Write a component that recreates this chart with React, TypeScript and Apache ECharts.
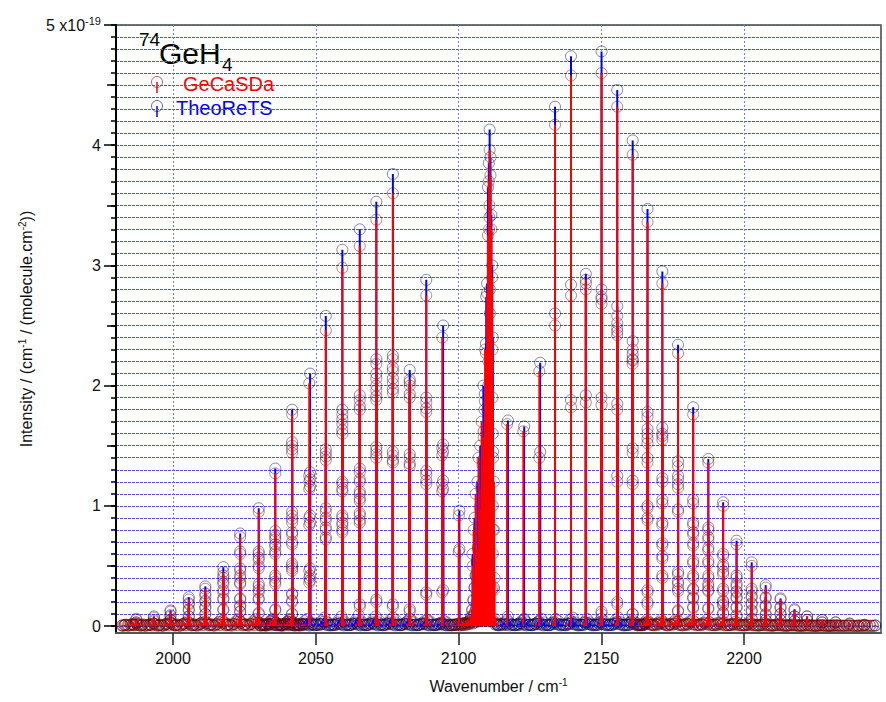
import React, { useEffect, useRef } from 'react';
import * as echarts from 'echarts';

// ---- axis ticks ----
const xTickValues = [2000, 2050, 2100, 2150, 2200];
const yTickValues = [0, 1, 2, 3, 4, 5];
const yHalfTickValues = [0.5, 1.5, 2.5, 3.5, 4.5];

// ---- data (intensity in units of 1e-19 cm-1/(molecule.cm-2)) ----
// clusters: [wavenumber, intensity of each component ...]
const gecasdaP = [
  [1987.1, 0.05, 0.03],
  [1993.3, 0.07, 0.04],
  [1999.1, 0.12, 0.08, 0.05],
  [2005.5, 0.22, 0.18, 0.13, 0.08],
  [2011.3, 0.31, 0.25, 0.2, 0.15, 0.1],
  [2017.6, 0.45, 0.4, 0.35, 0.28, 0.22, 0.13],
  [2023.5, 0.74, 0.6, 0.46, 0.4, 0.35, 0.22, 0.16, 0.12],
  [2030.0, 0.95, 0.6, 0.55, 0.48, 0.33, 0.28, 0.22, 0.1],
  [2035.8, 1.27, 0.76, 0.72, 0.66, 0.6, 0.4, 0.35, 0.13],
  [2041.7, 1.76, 1.5, 1.44, 0.92, 0.86, 0.76, 0.68, 0.5, 0.46, 0.26, 0.2, 0.1],
  [2047.7, 2.02, 1.25, 1.2, 1.14, 0.9, 0.84, 0.46, 0.4, 0.36],
  [2053.5, 2.46, 1.44, 1.38, 0.95, 0.88, 0.8, 0.72],
  [2059.3, 2.98, 1.76, 1.68, 1.6, 1.18, 1.12, 0.9, 0.84, 0.78],
  [2065.4, 3.16, 1.88, 1.8, 1.28, 1.2, 1.1, 1.04, 0.92, 0.86, 0.16],
  [2071.2, 3.38, 2.18, 2.06, 1.96, 1.88, 1.46, 1.4, 0.2],
  [2077.0, 3.6, 2.22, 2.12, 2.02, 1.94, 1.42, 1.36, 0.16],
  [2082.9, 2.05, 2.0, 1.9, 1.4, 1.33, 0.12],
  [2088.7, 2.75, 1.86, 1.78, 1.26, 1.18, 0.26],
  [2094.3, 2.4, 1.48, 1.42, 1.18, 1.12, 0.28],
  [2100.1, 0.92, 0.62],
];
const gecasdaQ = [
  [2104.0, 0.05], [2104.4, 0.08], [2104.8, 0.14], [2105.2, 0.22], [2105.6, 0.32], [2106.0, 0.42],
  [2106.4, 0.52], [2106.8, 0.64], [2107.2, 0.8], [2107.6, 0.97], [2108.0, 1.14],
  [2108.4, 1.34], [2108.8, 1.57], [2109.2, 1.87], [2109.6, 2.27], [2110.0, 2.77],
  [2110.3, 3.25], [2110.6, 3.7], [2110.9, 3.96], [2111.2, 3.75], [2111.5, 3.3],
  [2111.8, 2.9], [2112.1, 1.4], [2112.4, 0.3],
  [2111.9, 2.3], [2111.9, 1.9], [2112.0, 1.0], [2112.0, 0.6], [2111.7, 0.3],
  [2110.7, 3.3], [2110.8, 3.5], [2111.0, 2.6], [2110.5, 2.2], [2110.1, 1.8],
  [2109.9, 1.5], [2109.4, 1.3], [2109.0, 1.0], [2108.6, 0.9], [2108.2, 0.7],
  [2107.8, 0.55], [2107.3, 0.4], [2106.7, 0.25], [2106.1, 0.15], [2105.5, 0.1],
  [2105.0, 0.5], [2105.3, 0.8], [2106.0, 1.1], [2107.0, 1.4], [2108.1, 1.7], [2109.3, 2.3],
  [2112.4, 1.2], [2112.5, 0.8], [2112.6, 0.4],
];
const gecasdaR = [
  [2117.0, 1.68],
  [2122.7, 1.62],
  [2128.3, 2.12, 1.4],
  [2133.8, 4.17, 2.5],
  [2139.4, 4.58, 2.75, 1.82],
  [2144.6, 2.88, 2.8, 1.86],
  [2150.1, 4.6, 2.74, 2.68, 1.84, 0.1],
  [2155.6, 4.32, 2.58, 2.48, 2.42, 1.8, 1.2, 0.18],
  [2161.0, 3.92, 2.3, 2.22, 2.18, 1.44, 1.18, 0.1],
  [2166.2, 3.36, 1.74, 1.6, 1.52, 1.36, 0.98, 0.88, 0.28, 0.18],
  [2171.4, 2.85, 1.6, 1.55, 1.2, 1.02, 0.84, 0.67, 0.56, 0.4],
  [2176.9, 2.27, 1.33, 1.22, 1.15, 0.95, 0.43, 0.35, 0.29, 0.12],
  [2182.2, 1.76, 1.02, 0.84, 0.76, 0.67, 0.52, 0.4, 0.3, 0.23, 0.15],
  [2187.5, 1.36, 0.8, 0.72, 0.63, 0.52, 0.4, 0.33, 0.29, 0.14],
  [2192.7, 1.0, 0.58, 0.49, 0.43, 0.29, 0.2, 0.17, 0.1],
  [2197.4, 0.68, 0.4, 0.33, 0.28, 0.23, 0.15, 0.08],
  [2202.7, 0.5, 0.29, 0.24, 0.18, 0.12, 0.06],
  [2207.6, 0.32, 0.23, 0.16, 0.09, 0.05],
  [2212.8, 0.22, 0.15, 0.1, 0.05],
  [2217.7, 0.13, 0.08, 0.04],
  [2222.1, 0.08, 0.05],
  [2227.4, 0.05, 0.03],
  [2232.1, 0.03],
  [2237.0, 0.02],
  [2242.2, 0.01],
];
const gecasdaWeak = [
  [1982.0, 0.004], [1983.0, 0.008], [1984.0, 0.006], [1985.0, 0.01], [1986.0, 0.015],
  [1987.0, 0.02], [1988.0, 0.012], [1989.0, 0.006], [1990.0, 0.004], [1991.0, 0.008],
  [1992.0, 0.014], [1993.0, 0.022], [1994.0, 0.014], [1995.0, 0.006], [1996.0, 0.005],
  [1997.0, 0.01], [1998.0, 0.02], [1999.0, 0.03], [2000.0, 0.015], [2001.0, 0.006],
  [2002.0, 0.005], [2003.0, 0.01], [2004.0, 0.025], [2005.0, 0.04], [2006.0, 0.02],
  [2007.0, 0.008], [2008.0, 0.006], [2009.0, 0.012], [2010.0, 0.03], [2011.0, 0.05],
  [2012.0, 0.025], [2013.0, 0.01], [2014.0, 0.006], [2015.0, 0.012], [2016.0, 0.035],
  [2017.0, 0.06], [2018.0, 0.03], [2019.0, 0.01], [2020.0, 0.008], [2021.0, 0.015],
  [2022.0, 0.04], [2023.0, 0.06], [2024.0, 0.03], [2025.0, 0.012], [2026.0, 0.008],
  [2027.0, 0.015], [2028.0, 0.04], [2029.0, 0.06], [2030.0, 0.03], [2031.0, 0.012],
  [2032.0, 0.008], [2033.0, 0.015], [2034.0, 0.04], [2035.0, 0.06], [2036.0, 0.03],
  [2037.0, 0.012], [2038.0, 0.008], [2039.0, 0.015], [2040.0, 0.035], [2041.0, 0.05],
  [2042.0, 0.03], [2043.0, 0.01], [2044.0, 0.008], [2045.0, 0.012], [2046.0, 0.02],
  [1982.5, 0.002], [1984.5, 0.003], [1986.5, 0.004], [1988.5, 0.003], [1990.5, 0.002],
  [1992.5, 0.004], [1994.5, 0.003], [1996.5, 0.002], [1998.5, 0.005], [2000.5, 0.004],
  [2002.5, 0.002], [2004.5, 0.006], [2006.5, 0.004], [2008.5, 0.003], [2010.5, 0.006],
  [2012.5, 0.005], [2014.5, 0.003], [2016.5, 0.007], [2018.5, 0.005], [2020.5, 0.003],
  [2022.5, 0.007], [2024.5, 0.005], [2026.5, 0.003], [2028.5, 0.006], [2030.5, 0.005],
  [2032.5, 0.003], [2034.5, 0.006], [2036.5, 0.005], [2038.5, 0.003], [2040.5, 0.006],
  [2042.5, 0.004], [2044.5, 0.003],
  [1983.5, 0.012], [1985.5, 0.016], [1987.5, 0.01], [1989.5, 0.014], [1991.5, 0.01],
  [1993.5, 0.018], [1995.5, 0.012], [1997.5, 0.016], [1999.5, 0.02], [2001.5, 0.012],
  [2003.5, 0.016], [2005.5, 0.02], [2007.5, 0.014], [2009.5, 0.016], [2011.5, 0.022],
  [2013.5, 0.014], [2015.5, 0.016], [2017.5, 0.024], [2019.5, 0.014], [2021.5, 0.016],
  [2023.5, 0.024], [2025.5, 0.014], [2027.5, 0.016], [2029.5, 0.024], [2031.5, 0.014],
  [2033.5, 0.016], [2035.5, 0.024], [2037.5, 0.014], [2039.5, 0.016], [2041.5, 0.022],
  [2043.5, 0.014], [2045.5, 0.012],
  [1982.25, 0.006], [1983.25, 0.01], [1984.25, 0.004], [1985.25, 0.012], [1986.25, 0.008],
  [1987.25, 0.018], [1988.25, 0.006], [1989.25, 0.01], [1990.25, 0.005], [1991.25, 0.012],
  [1992.25, 0.008], [1993.25, 0.02], [1994.25, 0.006], [1995.25, 0.01], [1996.25, 0.004],
  [1997.25, 0.014], [1998.25, 0.01], [1999.25, 0.025], [2000.25, 0.008], [2001.25, 0.012],
  [2002.25, 0.005], [2003.25, 0.014], [2004.25, 0.01], [2005.25, 0.03], [2006.25, 0.008],
  [2007.25, 0.012], [2008.25, 0.006], [2009.25, 0.016], [2010.25, 0.012], [2011.25, 0.035],
  [2012.25, 0.01], [2013.25, 0.014], [2014.25, 0.006], [2015.25, 0.016], [2016.25, 0.012],
  [2017.25, 0.04], [2018.25, 0.01], [2019.25, 0.014], [2020.25, 0.006], [2021.25, 0.018],
  [2022.25, 0.012], [2023.25, 0.04], [2024.25, 0.01], [2025.25, 0.014], [2026.25, 0.006],
  [2027.25, 0.018], [2028.25, 0.012], [2029.25, 0.04], [2030.25, 0.01], [2031.25, 0.014],
  [2032.25, 0.006], [2033.25, 0.018], [2034.25, 0.012], [2035.25, 0.04], [2036.25, 0.01],
  [2037.25, 0.014], [2038.25, 0.006], [2039.25, 0.016], [2040.25, 0.012], [2041.25, 0.035],
  [2042.25, 0.01], [2043.25, 0.012], [2044.25, 0.006], [2045.25, 0.014],
  [2048, 0.02], [2050, 0.01], [2052, 0.015], [2054, 0.03], [2056, 0.01], [2058, 0.02],
  [2060, 0.04], [2062, 0.01], [2064, 0.02], [2066, 0.04], [2068, 0.01], [2070, 0.02],
  [2072, 0.05], [2074, 0.01], [2076, 0.02], [2078, 0.05], [2080, 0.01], [2082, 0.02],
  [2084, 0.04], [2086, 0.01], [2088, 0.02], [2090, 0.04], [2092, 0.01], [2094, 0.02],
  [2096, 0.03], [2098, 0.01],
  [2097.0, 0.006], [2097.5, 0.008], [2098.5, 0.01],
  [2099.0, 0.01], [2099.5, 0.012], [2100.0, 0.015], [2100.5, 0.018], [2101.0, 0.02],
  [2101.5, 0.022], [2102.0, 0.025], [2102.5, 0.028], [2103.0, 0.03], [2103.5, 0.035],
  [2100.2, 0.005], [2100.8, 0.006], [2101.3, 0.008], [2101.8, 0.01], [2102.3, 0.01],
  [2102.8, 0.012], [2103.3, 0.014], [2103.8, 0.02], [2104.2, 0.02], [2104.6, 0.03],
  [2105.0, 0.02], [2105.5, 0.03], [2106.0, 0.03], [2106.5, 0.04], [2107.0, 0.04],
  [2107.5, 0.04], [2108.0, 0.05], [2108.5, 0.04], [2109.0, 0.05], [2109.5, 0.04],
  [2110.0, 0.05], [2110.5, 0.04], [2111.0, 0.05], [2111.5, 0.04], [2112.0, 0.05],
  [2104.0, 0.045], [2112.7, 0.06], [2113.0, 0.03], [2113.5, 0.015],
  [2116, 0.01], [2121, 0.01], [2127, 0.02], [2133, 0.03], [2138, 0.02], [2144, 0.03],
  [2149, 0.02], [2155, 0.03], [2160, 0.03],
  [2163, 0.01], [2164, 0.015], [2165, 0.03], [2166, 0.05], [2167, 0.03], [2168, 0.01],
  [2169, 0.015], [2170, 0.03], [2171, 0.05], [2172, 0.03], [2173, 0.01], [2174, 0.015],
  [2175, 0.03], [2176, 0.05], [2177, 0.04], [2178, 0.015], [2179, 0.01], [2180, 0.02],
  [2181, 0.04], [2182, 0.05], [2183, 0.03], [2184, 0.01], [2185, 0.015], [2186, 0.03],
  [2187, 0.05], [2188, 0.03], [2189, 0.01], [2190, 0.012], [2191, 0.025], [2192, 0.04],
  [2193, 0.03], [2194, 0.01], [2195, 0.01], [2196, 0.02], [2197, 0.035], [2198, 0.025],
  [2199, 0.01], [2200, 0.008], [2201, 0.015], [2202, 0.03], [2203, 0.02], [2204, 0.008],
  [2205, 0.006], [2206, 0.012], [2207, 0.025], [2208, 0.015], [2209, 0.006], [2210, 0.005],
  [2211, 0.01], [2212, 0.02], [2213, 0.012], [2214, 0.005], [2215, 0.004], [2216, 0.008],
  [2217, 0.015], [2218, 0.01], [2219, 0.004], [2220, 0.004], [2221, 0.006], [2222, 0.012],
  [2223, 0.008], [2224, 0.004], [2225, 0.003], [2226, 0.005], [2227, 0.01], [2228, 0.006],
  [2229, 0.003], [2230, 0.003], [2231, 0.004], [2232, 0.008], [2233, 0.005], [2234, 0.003],
  [2236, 0.004], [2237, 0.006], [2238, 0.003], [2240, 0.003], [2241, 0.004], [2242, 0.005],
  [2244, 0.003],
  [2162.5, 0.006], [2163.5, 0.008], [2164.5, 0.012], [2165.5, 0.02], [2166.5, 0.018],
  [2167.5, 0.01], [2168.5, 0.006], [2169.5, 0.01], [2170.5, 0.02], [2171.5, 0.018],
  [2172.5, 0.01], [2173.5, 0.006], [2174.5, 0.01], [2175.5, 0.02], [2176.5, 0.018],
  [2177.5, 0.01], [2178.5, 0.006], [2179.5, 0.01], [2180.5, 0.014], [2181.5, 0.02],
  [2182.5, 0.016], [2183.5, 0.01], [2184.5, 0.006], [2185.5, 0.01], [2186.5, 0.016],
  [2187.5, 0.02], [2188.5, 0.012], [2189.5, 0.006], [2190.5, 0.008], [2191.5, 0.014],
  [2192.5, 0.018], [2193.5, 0.01], [2194.5, 0.006], [2195.5, 0.008], [2196.5, 0.012],
  [2197.5, 0.016], [2198.5, 0.01], [2199.5, 0.005], [2200.5, 0.006], [2201.5, 0.01],
  [2202.5, 0.014], [2203.5, 0.008], [2204.5, 0.004], [2205.5, 0.005], [2206.5, 0.008],
  [2207.5, 0.012], [2208.5, 0.007], [2209.5, 0.004], [2210.5, 0.004], [2211.5, 0.006],
  [2212.5, 0.01], [2213.5, 0.006], [2214.5, 0.003], [2215.5, 0.003], [2216.5, 0.005],
  [2217.5, 0.008], [2218.5, 0.005], [2219.5, 0.003], [2220.5, 0.003], [2221.5, 0.004],
  [2222.5, 0.006], [2223.5, 0.004], [2224.5, 0.002], [2225.5, 0.002], [2226.5, 0.003],
  [2227.5, 0.005], [2228.5, 0.003], [2229.5, 0.002], [2230.5, 0.002], [2231.5, 0.003],
  [2232.5, 0.004], [2233.5, 0.003], [2235.0, 0.002], [2236.5, 0.003], [2238.5, 0.002],
  [2239.5, 0.002], [2241.5, 0.003], [2243.0, 0.002], [2245.0, 0.002],
  [2163.25, 0.01], [2164.25, 0.006], [2165.25, 0.016], [2166.25, 0.035], [2167.25, 0.012],
  [2168.25, 0.008], [2169.25, 0.014], [2170.25, 0.012], [2171.25, 0.035], [2172.25, 0.01],
  [2173.25, 0.006], [2174.25, 0.014], [2175.25, 0.012], [2176.25, 0.035], [2177.25, 0.01],
  [2178.25, 0.006], [2179.25, 0.014], [2180.25, 0.01], [2181.25, 0.03], [2182.25, 0.012],
  [2183.25, 0.006], [2184.25, 0.012], [2185.25, 0.01], [2186.25, 0.025], [2187.25, 0.012],
  [2188.25, 0.006], [2189.25, 0.01], [2190.25, 0.008], [2191.25, 0.02], [2192.25, 0.01],
  [2193.25, 0.005], [2194.25, 0.008], [2195.25, 0.006], [2196.25, 0.016], [2197.25, 0.01],
  [2198.25, 0.005], [2199.25, 0.007], [2200.25, 0.005], [2201.25, 0.012], [2202.25, 0.008],
  [2203.25, 0.004], [2204.25, 0.006], [2205.25, 0.004], [2206.25, 0.01], [2207.25, 0.006],
  [2208.25, 0.003], [2209.25, 0.005], [2210.25, 0.003], [2211.25, 0.008], [2212.25, 0.005],
  [2213.25, 0.003], [2214.25, 0.004], [2215.25, 0.003], [2216.25, 0.006], [2217.25, 0.004],
  [2218.25, 0.002], [2219.25, 0.003], [2220.25, 0.002], [2221.25, 0.005], [2222.25, 0.003],
  [2223.25, 0.002], [2224.25, 0.003], [2225.25, 0.002], [2226.25, 0.004], [2227.25, 0.003],
  [2228.25, 0.002], [2229.25, 0.002], [2230.25, 0.002], [2231.25, 0.003], [2232.25, 0.002],
  [2233.25, 0.002], [2234.25, 0.002], [2235.25, 0.002], [2236.25, 0.003], [2237.25, 0.002],
  [2238.25, 0.002], [2239.25, 0.002], [2240.25, 0.002], [2241.25, 0.002], [2242.25, 0.003],
  [2243.25, 0.002], [2244.25, 0.002], [2245.25, 0.002],
];

const theoretsP = [
  [1987.1, 0.06, 0.03],
  [1993.3, 0.08, 0.05],
  [1999.1, 0.13, 0.09, 0.05],
  [2005.5, 0.24, 0.19, 0.14, 0.08],
  [2011.3, 0.33, 0.27, 0.21, 0.16, 0.1],
  [2017.6, 0.49, 0.42, 0.37, 0.3, 0.23, 0.14],
  [2023.5, 0.77, 0.62, 0.48, 0.42, 0.36, 0.23, 0.17, 0.12],
  [2030.0, 0.98, 0.62, 0.57, 0.5, 0.35, 0.3, 0.23, 0.11],
  [2035.8, 1.31, 0.79, 0.74, 0.68, 0.62, 0.42, 0.37, 0.14],
  [2041.7, 1.8, 1.53, 1.47, 0.95, 0.89, 0.78, 0.7, 0.52, 0.48, 0.27, 0.21, 0.1],
  [2048.0, 2.1, 1.28, 1.22, 1.16, 0.92, 0.86, 0.48, 0.42, 0.38],
  [2053.5, 2.58, 1.47, 1.41, 0.98, 0.9, 0.82, 0.74],
  [2059.3, 3.13, 1.8, 1.72, 1.63, 1.2, 1.14, 0.92, 0.86, 0.8],
  [2065.4, 3.3, 1.92, 1.83, 1.31, 1.22, 1.12, 1.06, 0.94, 0.88, 0.18],
  [2071.2, 3.53, 2.22, 2.1, 2.0, 1.91, 1.49, 1.43, 0.22],
  [2077.0, 3.76, 2.25, 2.15, 2.06, 1.97, 1.45, 1.38, 0.18],
  [2082.9, 2.13, 2.03, 1.93, 1.43, 1.35, 0.14],
  [2088.7, 2.88, 1.9, 1.81, 1.29, 1.21, 0.28],
  [2094.6, 2.5, 1.51, 1.45, 1.21, 1.14, 0.3],
  [2100.3, 0.96, 0.64],
];
const theoretsQ = [
  [2104.4, 0.07], [2104.8, 0.13], [2105.2, 0.21], [2105.6, 0.32], [2106.0, 0.42],
  [2106.4, 0.53], [2106.8, 0.66], [2107.2, 0.82], [2107.6, 1.0], [2108.0, 1.18],
  [2108.4, 1.38], [2108.8, 1.62], [2109.1, 1.8], [2109.2, 1.93], [2109.6, 2.35],
  [2109.7, 2.74], [2110.0, 2.85], [2110.3, 3.65], [2110.6, 3.85], [2110.9, 4.13],
  [2111.2, 3.9], [2111.5, 3.42], [2111.8, 3.0], [2112.1, 1.45], [2112.4, 0.32],
  [2112.0, 2.4], [2112.0, 1.6], [2112.1, 0.8], [2110.8, 3.4], [2111.0, 2.8],
  [2110.4, 2.0], [2109.8, 1.6], [2109.3, 1.15], [2108.9, 0.95], [2108.3, 0.75],
  [2107.7, 0.5], [2107.0, 0.35], [2106.4, 0.2], [2105.8, 0.12], [2105.1, 0.08],
  [2104.9, 0.6], [2105.6, 0.9], [2106.6, 1.2], [2107.6, 1.5], [2108.7, 2.0],
];
const theoretsR = [
  [2117.3, 1.71, 0.08],
  [2123.0, 1.66, 0.06],
  [2128.6, 2.19, 1.45],
  [2133.8, 4.32, 2.6],
  [2139.4, 4.74, 2.84, 1.88],
  [2144.6, 2.93, 2.85, 1.92],
  [2150.1, 4.78, 2.8, 2.72, 1.9, 0.12],
  [2155.6, 4.46, 2.66, 2.52, 2.45, 1.85, 1.25, 0.2],
  [2161.0, 4.04, 2.37, 2.26, 2.21, 1.48, 1.21, 0.1],
  [2166.2, 3.47, 1.78, 1.64, 1.56, 1.4, 1.0, 0.9, 0.3, 0.2],
  [2171.4, 2.95, 1.65, 1.58, 1.23, 1.05, 0.86, 0.69, 0.58, 0.42],
  [2176.9, 2.34, 1.37, 1.25, 1.18, 0.97, 0.45, 0.37, 0.31, 0.13],
  [2182.2, 1.82, 1.05, 0.86, 0.78, 0.69, 0.54, 0.42, 0.31, 0.24, 0.16],
  [2187.5, 1.39, 0.82, 0.74, 0.65, 0.54, 0.42, 0.35, 0.3, 0.15],
  [2192.7, 1.03, 0.6, 0.51, 0.45, 0.31, 0.21, 0.18, 0.11],
  [2197.4, 0.71, 0.42, 0.35, 0.29, 0.24, 0.16, 0.09],
  [2202.7, 0.53, 0.31, 0.25, 0.19, 0.13, 0.06],
  [2207.6, 0.34, 0.24, 0.17, 0.1, 0.05],
  [2212.8, 0.23, 0.16, 0.1, 0.05],
  [2217.7, 0.14, 0.08, 0.04],
  [2222.1, 0.08, 0.05],
  [2227.4, 0.05, 0.03],
  [2232.1, 0.03],
  [2237.0, 0.02],
  [2242.2, 0.01],
  [2246.0, 0.005],
];
const theoretsWeak = [
  [1983, 0.006], [1986, 0.01], [1989, 0.006], [1992, 0.012], [1995, 0.006], [1998, 0.02],
  [2001, 0.006], [2004, 0.02], [2007, 0.008], [2010, 0.025], [2013, 0.01], [2016, 0.03],
  [2019, 0.01], [2022, 0.03], [2025, 0.012], [2028, 0.03],
  [2031, 0.015], [2032, 0.01], [2033, 0.02], [2034, 0.04], [2035, 0.05], [2036, 0.03],
  [2037, 0.015], [2038, 0.01], [2039, 0.02], [2040, 0.04], [2041, 0.06], [2042, 0.03],
  [2043, 0.015], [2044, 0.01], [2045, 0.02], [2046, 0.04], [2047, 0.06], [2048, 0.03],
  [2049, 0.015], [2050, 0.01], [2051, 0.02], [2052, 0.04], [2053, 0.07], [2054, 0.03],
  [2055, 0.012], [2056, 0.01], [2057, 0.02], [2058, 0.05], [2059, 0.08], [2060, 0.03],
  [2061, 0.012], [2062, 0.01], [2063, 0.02], [2064, 0.05], [2065, 0.09], [2066, 0.03],
  [2067, 0.012], [2068, 0.01], [2069, 0.02], [2070, 0.05], [2071, 0.08], [2072, 0.03],
  [2073, 0.012], [2074, 0.01], [2075, 0.02], [2076, 0.05], [2077, 0.07], [2078, 0.03],
  [2079, 0.012], [2080, 0.01], [2081, 0.02], [2082, 0.04], [2083, 0.06], [2084, 0.03],
  [2085, 0.012], [2086, 0.01], [2087, 0.02], [2088, 0.04], [2089, 0.05], [2090, 0.03],
  [2091, 0.012], [2092, 0.01], [2093, 0.02], [2094, 0.03], [2095, 0.04], [2096, 0.02],
  [2097, 0.01], [2098, 0.012], [2099, 0.015], [2100, 0.02], [2101, 0.015], [2102, 0.02],
  [2103, 0.02], [2104, 0.03],
  [2113, 0.02], [2114, 0.01], [2115, 0.015], [2116, 0.03], [2117, 0.05], [2118, 0.03],
  [2119, 0.012], [2120, 0.01], [2121, 0.02], [2122, 0.04], [2123, 0.05], [2124, 0.03],
  [2125, 0.012], [2126, 0.01], [2127, 0.02], [2128, 0.04], [2129, 0.06], [2130, 0.03],
  [2131, 0.012], [2132, 0.01], [2133, 0.03], [2134, 0.06], [2135, 0.04], [2136, 0.015],
  [2137, 0.01], [2138, 0.02], [2139, 0.05], [2140, 0.07], [2141, 0.03], [2142, 0.012],
  [2143, 0.01], [2144, 0.03], [2145, 0.06], [2146, 0.03], [2147, 0.012], [2148, 0.01],
  [2149, 0.03], [2150, 0.06], [2151, 0.04], [2152, 0.015], [2153, 0.01], [2154, 0.02],
  [2155, 0.05], [2156, 0.07], [2157, 0.03], [2158, 0.012], [2159, 0.01], [2160, 0.03],
  [2161, 0.05], [2162, 0.03], [2163, 0.012], [2164, 0.01], [2165, 0.02], [2166, 0.03],
  [2168, 0.015], [2170, 0.02], [2172, 0.02], [2174, 0.015], [2176, 0.02],
  [2180, 0.02], [2185, 0.02], [2190, 0.02], [2195, 0.015], [2200, 0.01], [2205, 0.01],
  [2210, 0.008], [2215, 0.006], [2220, 0.005], [2225, 0.004], [2230, 0.003], [2235, 0.003],
  [2240, 0.003], [2246, 0.004],
  [2030.5, 0.008], [2031.5, 0.006], [2032.5, 0.01], [2033.5, 0.012], [2034.5, 0.016],
  [2035.5, 0.012], [2036.5, 0.008], [2037.5, 0.006], [2038.5, 0.01], [2039.5, 0.014],
  [2040.5, 0.018], [2041.5, 0.012], [2042.5, 0.008], [2043.5, 0.006], [2044.5, 0.01],
  [2045.5, 0.014], [2046.5, 0.018], [2047.5, 0.012], [2048.5, 0.008], [2049.5, 0.006],
  [2050.5, 0.01], [2051.5, 0.014], [2052.5, 0.02], [2053.5, 0.014], [2054.5, 0.008],
  [2055.5, 0.006], [2056.5, 0.01], [2057.5, 0.014], [2058.5, 0.02], [2059.5, 0.014],
  [2060.5, 0.008], [2061.5, 0.006], [2062.5, 0.01], [2063.5, 0.014], [2064.5, 0.02],
  [2065.5, 0.014], [2066.5, 0.008], [2067.5, 0.006], [2068.5, 0.01], [2069.5, 0.014],
  [2070.5, 0.02], [2071.5, 0.014], [2072.5, 0.008], [2073.5, 0.006], [2074.5, 0.01],
  [2075.5, 0.014], [2076.5, 0.02], [2077.5, 0.014], [2078.5, 0.008], [2079.5, 0.006],
  [2080.5, 0.01], [2081.5, 0.014], [2082.5, 0.018], [2083.5, 0.012], [2084.5, 0.008],
  [2085.5, 0.006], [2086.5, 0.01], [2087.5, 0.014], [2088.5, 0.018], [2089.5, 0.012],
  [2090.5, 0.008], [2091.5, 0.006], [2092.5, 0.01], [2093.5, 0.012], [2094.5, 0.016],
  [2095.5, 0.01], [2096.5, 0.006], [2097.5, 0.006], [2098.5, 0.008],
  [2113.5, 0.01], [2114.5, 0.006], [2115.5, 0.01], [2116.5, 0.016], [2117.5, 0.02],
  [2118.5, 0.012], [2119.5, 0.006], [2120.5, 0.008], [2121.5, 0.012], [2122.5, 0.018],
  [2123.5, 0.014], [2124.5, 0.008], [2125.5, 0.006], [2126.5, 0.01], [2127.5, 0.014],
  [2128.5, 0.02], [2129.5, 0.014], [2130.5, 0.008], [2131.5, 0.006], [2132.5, 0.01],
  [2133.5, 0.016], [2134.5, 0.02], [2135.5, 0.012], [2136.5, 0.008], [2137.5, 0.006],
  [2138.5, 0.012], [2139.5, 0.02], [2140.5, 0.016], [2141.5, 0.01], [2142.5, 0.006],
  [2143.5, 0.01], [2144.5, 0.016], [2145.5, 0.02], [2146.5, 0.012], [2147.5, 0.006],
  [2148.5, 0.01], [2149.5, 0.016], [2150.5, 0.02], [2151.5, 0.012], [2152.5, 0.006],
  [2153.5, 0.008], [2154.5, 0.014], [2155.5, 0.02], [2156.5, 0.016], [2157.5, 0.01],
  [2158.5, 0.006], [2159.5, 0.01], [2160.5, 0.016], [2161.5, 0.02], [2162.5, 0.012],
  [2163.5, 0.006], [2164.5, 0.008], [2165.5, 0.012],
  [2030.75, 0.004], [2031.75, 0.012], [2032.75, 0.006], [2033.75, 0.018], [2034.75, 0.03],
  [2035.75, 0.008], [2036.75, 0.012], [2037.75, 0.004], [2038.75, 0.014], [2039.75, 0.025],
  [2040.75, 0.01], [2041.75, 0.012], [2042.75, 0.005], [2043.75, 0.014], [2044.75, 0.02],
  [2045.75, 0.008], [2046.75, 0.012], [2047.75, 0.004], [2048.75, 0.014], [2049.75, 0.02],
  [2050.75, 0.008], [2051.75, 0.012], [2052.75, 0.035], [2053.75, 0.01], [2054.75, 0.005],
  [2055.75, 0.014], [2056.75, 0.008], [2057.75, 0.03], [2058.75, 0.012], [2059.75, 0.005],
  [2060.75, 0.014], [2061.75, 0.008], [2062.75, 0.02], [2063.75, 0.03], [2064.75, 0.01],
  [2065.75, 0.005], [2066.75, 0.014], [2067.75, 0.008], [2068.75, 0.02], [2069.75, 0.03],
  [2070.75, 0.012], [2071.75, 0.005], [2072.75, 0.014], [2073.75, 0.008], [2074.75, 0.02],
  [2075.75, 0.03], [2076.75, 0.012], [2077.75, 0.005], [2078.75, 0.014], [2079.75, 0.008],
  [2080.75, 0.02], [2081.75, 0.03], [2082.75, 0.01], [2083.75, 0.005], [2084.75, 0.012],
  [2085.75, 0.008], [2086.75, 0.018], [2087.75, 0.025], [2088.75, 0.01], [2089.75, 0.005],
  [2090.75, 0.012], [2091.75, 0.008], [2092.75, 0.016], [2093.75, 0.02], [2094.75, 0.01],
  [2095.75, 0.005], [2096.75, 0.008], [2097.75, 0.006], [2098.75, 0.01],
  [2112.75, 0.012], [2113.75, 0.006], [2114.75, 0.014], [2115.75, 0.02], [2116.75, 0.01],
  [2117.75, 0.005], [2118.75, 0.012], [2119.75, 0.008], [2120.75, 0.016], [2121.75, 0.025],
  [2122.75, 0.01], [2123.75, 0.005], [2124.75, 0.012], [2125.75, 0.008], [2126.75, 0.018],
  [2127.75, 0.03], [2128.75, 0.012], [2129.75, 0.005], [2130.75, 0.012], [2131.75, 0.008],
  [2132.75, 0.02], [2133.75, 0.03], [2134.75, 0.012], [2135.75, 0.005], [2136.75, 0.012],
  [2137.75, 0.008], [2138.75, 0.02], [2139.75, 0.035], [2140.75, 0.012], [2141.75, 0.005],
  [2142.75, 0.012], [2143.75, 0.008], [2144.75, 0.03], [2145.75, 0.014], [2146.75, 0.006],
  [2147.75, 0.012], [2148.75, 0.008], [2149.75, 0.03], [2150.75, 0.014], [2151.75, 0.006],
  [2152.75, 0.012], [2153.75, 0.008], [2154.75, 0.02], [2155.75, 0.035], [2156.75, 0.012],
  [2157.75, 0.005], [2158.75, 0.012], [2159.75, 0.008], [2160.75, 0.03], [2161.75, 0.012],
  [2162.75, 0.006], [2163.75, 0.01], [2164.75, 0.008],
];

function expand(clusters: number[][]): number[][] {
  const out: number[][] = [];
  for (const c of clusters) for (let i = 1; i < c.length; i++) out.push([c[0], c[i]]);
  return out;
}

const FONT = '"Liberation Sans", Arial, Helvetica, sans-serif';
const GE_STICK = '#ff0000';
const TH_STICK = '#0000ff';
const GE_RING = 'rgba(120,0,0,0.6)';
const TH_RING = 'rgba(0,0,100,0.6)';

export default function App() {
  const ref = useRef<HTMLDivElement>(null);
  useEffect(() => {
    if (!ref.current) return;
    const chart = echarts.init(ref.current, undefined, { renderer: 'svg' });
    const geLines = [...gecasdaWeak, ...expand(gecasdaP), ...gecasdaQ, ...expand(gecasdaR)];
    const thLines = [...theoretsWeak, ...expand(theoretsP), ...theoretsQ, ...expand(theoretsR)];
    const minorValues: number[] = [];
    for (let i = 0; i <= 50; i++) minorValues.push(i / 10);

    const stick = (color: string) => (params: any, api: any) => {
      const x = api.value(0);
      const y = api.value(1);
      const p0 = api.coord([x, 0]);
      const p1 = api.coord([x, y]);
      return {
        type: 'line',
        shape: { x1: p0[0], y1: p0[1], x2: p1[0], y2: p1[1] },
        style: { stroke: color, lineWidth: 2 },
      };
    };

    const yBase = { type: 'value', min: -0.058, max: 5, position: 'left' };
    const dotted = { color: '#4a4aff', width: 1, type: [3, 1] };

    chart.setOption({
      animation: false,
      backgroundColor: '#ffffff',
      grid: { left: 116, right: 5, top: 25, bottom: 69, show: true, borderColor: '#444', borderWidth: 1.5 },
      xAxis: {
        type: 'value', min: 1980, max: 2248,
        name: 'Wavenumber / cm{sup|-1}', nameLocation: 'middle', nameGap: 44,
        nameTextStyle: { fontFamily: FONT, fontSize: 16, color: '#111',
          rich: { sup: { fontFamily: FONT, fontSize: 10, color: '#111', padding: [0, 0, 9, 0] } } },
        axisLine: { show: true, onZero: false, lineStyle: { color: '#555', width: 2 } },
        axisTick: { show: true, length: 12, customValues: xTickValues, lineStyle: { color: '#222', width: 1.5 } },
        axisLabel: { customValues: xTickValues, margin: 17, fontFamily: FONT, fontSize: 16, color: '#111',
          formatter: (v: number) => String(v) },
        splitLine: { show: true, lineStyle: { color: '#7a7aff', width: 1, type: [2, 2] } },
      },
      yAxis: [
        {
          ...yBase,
          name: 'Intensity / (cm{sup|-1} / (molecule.cm{sup|-2}))', nameLocation: 'middle', nameGap: 80,
          nameRotate: 90,
          nameTextStyle: { fontFamily: FONT, fontSize: 16, color: '#111',
            rich: { sup: { fontFamily: FONT, fontSize: 10, color: '#111', padding: [0, 0, 9, 0] } } },
          axisLine: { show: true, lineStyle: { color: '#000', width: 2 } },
          axisTick: { show: true, length: 12, customValues: yTickValues, lineStyle: { color: '#000', width: 1.5 } },
          axisLabel: {
            customValues: yTickValues, margin: 15, fontFamily: FONT, fontSize: 16, color: '#111',
            formatter: (v: number) => (v === 5 ? '5 x10{sup|-19}' : String(v)),
            rich: { sup: { fontFamily: FONT, fontSize: 11, color: '#111', padding: [0, 0, 9, 0] } },
          },
          splitLine: { show: true, lineStyle: dotted },
        },
        {
          ...yBase,
          axisLine: { show: false },
          axisLabel: { show: false },
          axisTick: { show: true, length: 5, customValues: minorValues, lineStyle: { color: '#000', width: 1.5 } },
          splitLine: { show: true, lineStyle: dotted },
        },
        {
          ...yBase,
          axisLine: { show: false },
          axisLabel: { show: false },
          axisTick: { show: true, length: 9, customValues: yHalfTickValues, lineStyle: { color: '#000', width: 1.5 } },
          splitLine: { show: false },
        },
      ],
      graphic: [
        { type: 'text', left: 139, top: 30, style: { text: '74', font: `19px ${FONT}`, fill: '#000' } },
        { type: 'text', left: 159, top: 38, style: { text: 'GeH', font: `30px ${FONT}`, fill: '#000' } },
        { type: 'text', left: 222, top: 55, style: { text: '4', font: `19px ${FONT}`, fill: '#000' } },
        { type: 'circle', shape: { cx: 157, cy: 82, r: 5.5 }, style: { fill: 'none', stroke: GE_RING, lineWidth: 1 } },
        { type: 'line', shape: { x1: 157, y1: 82, x2: 157, y2: 93 }, style: { stroke: GE_STICK, lineWidth: 1.5 } },
        { type: 'text', left: 183, top: 74, style: { text: 'GeCaSDa', font: `20px ${FONT}`, fill: '#ff0000' } },
        { type: 'circle', shape: { cx: 157, cy: 106, r: 5.5 }, style: { fill: 'none', stroke: TH_RING, lineWidth: 1 } },
        { type: 'line', shape: { x1: 157, y1: 106, x2: 157, y2: 117 }, style: { stroke: TH_STICK, lineWidth: 1.5 } },
        { type: 'text', left: 176, top: 98, style: { text: 'TheoReTS', font: `20px ${FONT}`, fill: '#0000ff' } },
      ],
      series: [
        {
          name: 'TheoReTS circles', type: 'scatter', data: thLines, symbol: 'circle', symbolSize: 11,
          itemStyle: { color: 'rgba(0,0,0,0)', borderColor: TH_RING, borderWidth: 1 }, silent: true, z: 2,
        },
        {
          name: 'GeCaSDa circles', type: 'scatter', data: geLines, symbol: 'circle', symbolSize: 11,
          itemStyle: { color: 'rgba(0,0,0,0)', borderColor: GE_RING, borderWidth: 1 }, silent: true, z: 3,
        },
        {
          name: 'TheoReTS', type: 'custom', data: thLines, renderItem: stick(TH_STICK),
          encode: { x: 0, y: 1 }, silent: true, z: 4,
        },
        {
          name: 'GeCaSDa', type: 'custom', data: geLines, renderItem: stick(GE_STICK),
          encode: { x: 0, y: 1 }, silent: true, z: 5,
        },
      ],
    });
    return () => chart.dispose();
  }, []);
  return (
    <div
      ref={ref}
      style={{ position: 'fixed', left: 0, top: 0, width: 886, height: 702, background: '#fff' }}
    />
  );
}
